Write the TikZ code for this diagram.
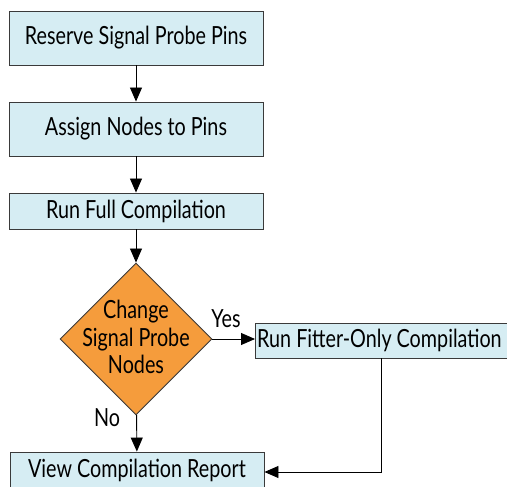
\documentclass[tikz,border=0pt]{standalone}
\usepackage{fontspec}
\setmainfont{Lato}[FakeStretch=0.79]
\usetikzlibrary{arrows.meta,shapes.geometric}
\definecolor{boxblue}{HTML}{D6EDF3}
\definecolor{dorange}{HTML}{F59C3C}
\definecolor{edge}{HTML}{3A3A3A}
\begin{document}
\begin{tikzpicture}[x=1pt,y=-1pt,
  font=\fontsize{25}{27.5}\selectfont,
  stepbox/.style={draw=edge,line width=0.9pt,fill=boxblue,minimum width=254pt,inner sep=0pt,text=black},
  conn/.style={draw=black,line width=0.9pt,-{Triangle[width=12pt,length=14pt]}},
  lbl/.style={inner sep=0pt,text=black}]
\useasboundingbox (0,0) rectangle (507,487);
\node[stepbox,minimum height=54pt] (b1) at (136,38) {Reserve Signal Probe Pins};
\node[stepbox,minimum height=54pt] (b2) at (136,129) {Assign Nodes to Pins};
\node[stepbox,minimum height=36pt] (b3) at (136,211) {Run Full Compilation};
\node[diamond,draw=edge,line width=0.9pt,fill=dorange,minimum width=152pt,minimum height=152pt,inner sep=0pt] (d) at (136,339) {};
\node[lbl,align=center] (dt) at (136,337) {Change\\Signal Probe\\Nodes};
\node[stepbox,minimum width=254pt,minimum height=35pt,anchor=west] (fit) at (255,340.5) {\hspace*{-6pt}Run Fitter-Only Compilation};
\node[stepbox,minimum height=36pt] (view) at (137,470) {View Compilation Report};
\coordinate (corner) at (381,472);
\draw[conn] (b1) -- (b2);
\draw[conn] (b2) -- (b3);
\draw[conn] (b3) -- (d);
\draw[conn] (d.east) -- (fit.west |- d.east);
\draw[conn] (d) -- (view);
\draw[conn] (fit.south -| corner) -- (corner) -- (view.east |- corner);
\node[lbl] (yes) at (226,319) {Yes};
\node[lbl] (no) at (107,418) {No};
\end{tikzpicture}
\end{document}
